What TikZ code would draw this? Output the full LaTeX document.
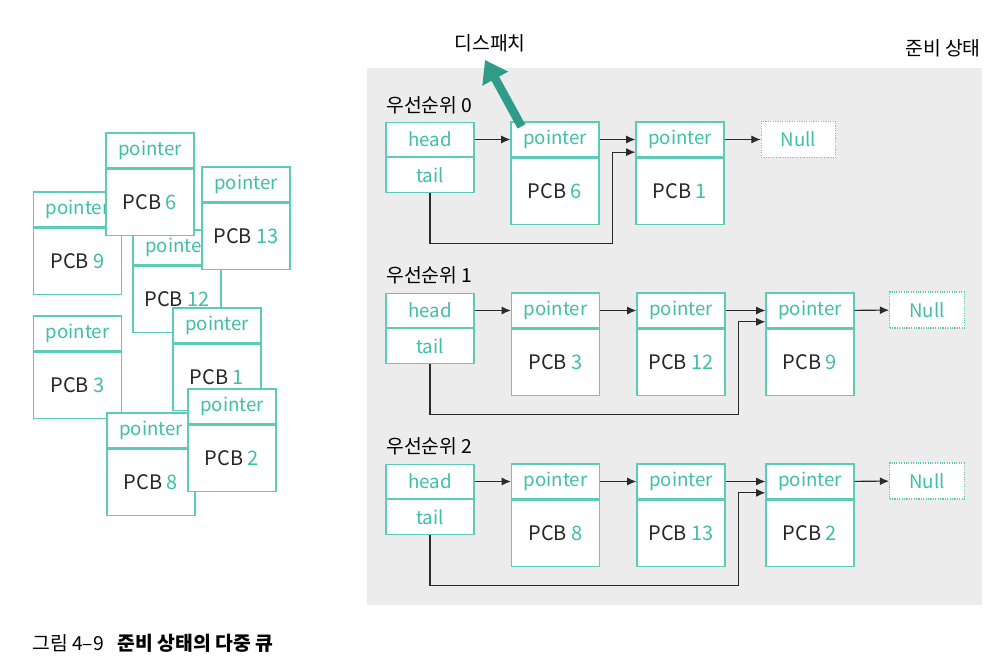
\documentclass[tikz,border=0pt]{standalone}
\usepackage{fontspec}
\setmainfont{Noto Sans CJK KR}
\usetikzlibrary{positioning,arrows.meta}
\definecolor{boxline}{HTML}{5CCBB8}
\definecolor{boxtext}{HTML}{3FBFA6}
\definecolor{dispatch}{HTML}{2E9C89}
\definecolor{panel}{HTML}{ECECEC}
\definecolor{wire}{HTML}{2A2A2A}
\newcommand{\pcbno}[1]{PCB \textcolor{boxtext}{#1}}

\begin{document}
\begin{tikzpicture}[x=0.75pt,y=-0.75pt,
   hdr/.style={draw=boxline, fill=white, line width=0.8pt, minimum width=66pt,
     minimum height=26.25pt, inner sep=0pt, text=boxtext, font=\fontsize{14}{16}\selectfont},
   pcbbody/.style={hdr, minimum height=49.5pt, text=black!85, font=\fontsize{15}{17}\selectfont},
   half/.style={hdr, minimum height=25.9pt},
   nullbox/.style={hdr, densely dotted, minimum width=56pt, minimum height=27pt},
   link/.style={draw=wire, line width=0.8pt, -{Latex[length=7pt,width=6pt]}},
   lbl/.style={font=\fontsize{14.5}{16}\selectfont, inner sep=0pt}]
   \useasboundingbox (0,0) rectangle (992,666);
   \fill[panel] (367,68) rectangle (982,605);

   % loose PCBs
   \node[hdr] (p9) at (77.5,209.5) {pointer};
   \node[pcbbody, below=0pt of p9] (b9) {\pcbno{9}};
   \node[hdr] (p12) at (177,247.5) {pointer};
   \node[pcbbody, below=0pt of p12] (b12) {\pcbno{12}};
   \node[hdr] (p6) at (150,150.5) {pointer};
   \node[pcbbody, below=0pt of p6] (b6) {\pcbno{6}};
   \node[hdr] (p13) at (246,184.5) {pointer};
   \node[pcbbody, below=0pt of p13] (b13) {\pcbno{13}};
   \node[hdr] (p1) at (217,325.5) {pointer};
   \node[pcbbody, below=0pt of p1] (b1) {\pcbno{1}};
   \node[hdr] (p3) at (77.5,333.5) {pointer};
   \node[pcbbody, below=0pt of p3] (b3) {\pcbno{3}};
   \node[hdr] (p8) at (151,430.5) {pointer};
   \node[pcbbody, below=0pt of p8] (b8) {\pcbno{8}};
   \node[hdr] (p2) at (232,406.5) {pointer};
   \node[pcbbody, below=0pt of p2] (b2) {\pcbno{2}};

   \node[lbl] (ready) at (943,48) {준비 상태};
   \node[lbl] (dlabel) at (490,43) {디스패치};

   % priority 0
   \node[lbl, anchor=west] (r0) at (386,105) {우선순위 0};
   \node[half] (q0h) at (430,139.5) {head};
   \node[half, below=0pt of q0h] (q0t) {tail};
   \node[hdr] (q0a) at (555,139.5) {pointer};
   \node[pcbbody, below=0pt of q0a] (q0ab) {\pcbno{6}};
   \node[hdr] (q0b) at (680,139.5) {pointer};
   \node[pcbbody, below=0pt of q0b] (q0bb) {\pcbno{1}};
   \node[nullbox] (q0n) at (798.5,139.5) {Null};
   \draw[link] (q0h) -- (q0a);
   \draw[link] (q0a) -- (q0b);
   \draw[link] (q0b) -- (q0n);
   \draw[link] (q0t.south) |- ([xshift=9.75pt,yshift=-14.25pt]q0ab.south east)
      |- ([yshift=-9.5pt]q0b.west);

   % priority 1
   \node[lbl, anchor=west] (r1) at (386,275) {우선순위 1};
   \node[half] (q1h) at (430,310.5) {head};
   \node[half, below=0pt of q1h] (q1t) {tail};
   \node[hdr] (q1a) at (555.5,310.5) {pointer};
   \node[pcbbody, below=0pt of q1a] (q1ab) {\pcbno{3}};
   \node[hdr] (q1b) at (681,310.5) {pointer};
   \node[pcbbody, below=0pt of q1b] (q1bb) {\pcbno{12}};
   \node[hdr] (q1c) at (810,310.5) {pointer};
   \node[pcbbody, below=0pt of q1c] (q1cb) {\pcbno{9}};
   \node[nullbox] (q1n) at (927,310) {Null};
   \draw[link] (q1h) -- (q1a);
   \draw[link] (q1a) -- (q1b);
   \draw[link] (q1b) -- (q1c);
   \draw[link] (q1c) -- (q1n);
   \draw[link] (q1t.south) |- ([xshift=9.75pt,yshift=-14.25pt]q1bb.south east)
      |- ([yshift=-8.5pt]q1c.west);

   % priority 2
   \node[lbl, anchor=west] (r2) at (386,446) {우선순위 2};
   \node[half] (q2h) at (430,481.5) {head};
   \node[half, below=0pt of q2h] (q2t) {tail};
   \node[hdr] (q2a) at (555.5,481.5) {pointer};
   \node[pcbbody, below=0pt of q2a] (q2ab) {\pcbno{8}};
   \node[hdr] (q2b) at (681,481.5) {pointer};
   \node[pcbbody, below=0pt of q2b] (q2bb) {\pcbno{13}};
   \node[hdr] (q2c) at (810,481.5) {pointer};
   \node[pcbbody, below=0pt of q2c] (q2cb) {\pcbno{2}};
   \node[nullbox] (q2n) at (927,481) {Null};
   \draw[link] (q2h) -- (q2a);
   \draw[link] (q2a) -- (q2b);
   \draw[link] (q2b) -- (q2c);
   \draw[link] (q2c) -- (q2n);
   \draw[link] (q2t.south) |- ([xshift=9.75pt,yshift=-14.25pt]q2bb.south east)
      |- ([yshift=-8.5pt]q2c.west);

   % dispatch
   \coordinate (dfoot) at ([xshift=8.25pt,yshift=-3.75pt]q0a.north west);
   \coordinate (dtip) at (485,60);
   \draw[dispatch, line width=6.5pt, -{Triangle[length=16pt,width=21pt]}] (dfoot) -- (dtip);

   \node[anchor=west, font=\fontsize{14.5}{16}\selectfont, inner sep=0pt] (caption) at (32,643)
      {그림 4–9\hspace{0.7em}\textbf{준비 상태의 다중 큐}};
\end{tikzpicture}
\end{document}
